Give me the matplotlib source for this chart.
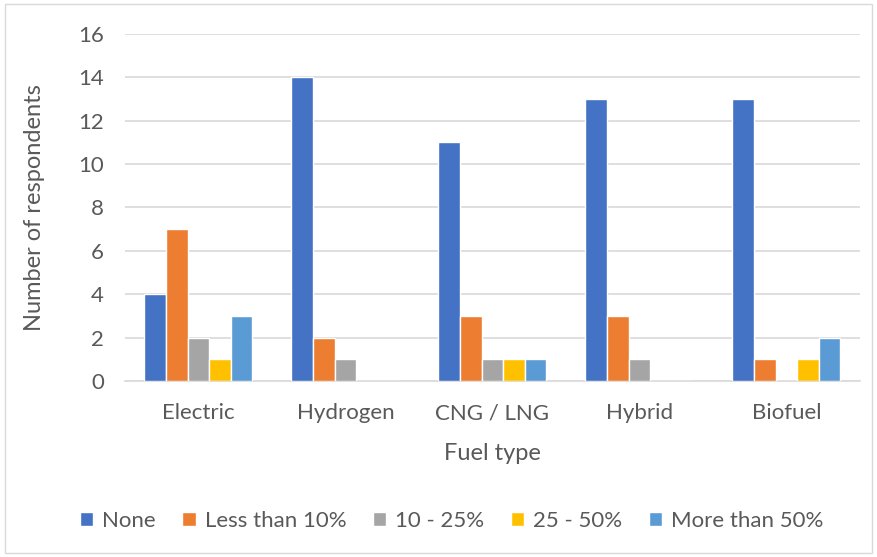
import matplotlib.pyplot as plt
import numpy as np
from matplotlib.patches import Rectangle

plt.rcParams['font.family'] = ['Lato', 'DejaVu Sans']

fuels = ["Electric", "Hydrogen", "CNG / LNG", "Hybrid", "Biofuel"]
series = ["None", "Less than 10%", "10 - 25%", "25 - 50%", "More than 50%"]
none = [4, 14, 11, 13, 13]
less10 = [7, 2, 3, 3, 1]
p10_25 = [2, 1, 1, 1, 0]
p25_50 = [1, 0, 1, 0, 1]
more50 = [3, 0, 1, 0, 2]
colors = ["#4472C4", "#ED7D31", "#A5A5A5", "#FFC000", "#5B9BD5"]
txt = "#595959"

fig = plt.figure(figsize=(8.77, 5.57), dpi=100)
ax = fig.add_axes([0.1425, 0.316, 0.838, 0.623])

x = np.arange(len(fuels))
w = 0.147
vals = [none, less10, p10_25, p25_50, more50]
for i, (name, v) in enumerate(zip(series, vals)):
    ax.bar(x + (i - 2) * w, v, width=w, color=colors[i], label=name,
           edgecolor="white", linewidth=1.0, zorder=3)

ax.set_xlim(-0.5, len(fuels) - 0.5)
ax.set_ylim(0, 16)
ax.set_yticks(range(0, 17, 2))
ax.set_xticks(x)
ax.set_xticklabels(fuels)
ax.grid(axis="y", color="#D9D9D9", linewidth=1.2, zorder=0)
for s in ["top", "right", "left"]:
    ax.spines[s].set_visible(False)
ax.spines["bottom"].set_color("#D9D9D9")
ax.spines["bottom"].set_linewidth(1.2)
ax.tick_params(axis="both", length=0, labelsize=16, colors=txt)
ax.tick_params(axis="y", pad=15)
ax.tick_params(axis="x", pad=16)
ax.set_xlabel("Fuel type", fontsize=17, color=txt, labelpad=14)
ax.set_ylabel("Number of respondents", fontsize=17, color=txt, labelpad=24)

fig.legend(loc="center", bbox_to_anchor=(0.515, 0.0646), ncol=5, frameon=False,
           fontsize=16, handlelength=0.6, handleheight=0.6, handletextpad=0.4,
           columnspacing=1.2, labelcolor=txt)

fig.patches.append(Rectangle((0.006, 0.008), 0.988, 0.984, transform=fig.transFigure,
                             fill=False, edgecolor="#D9D9D9", linewidth=1.0))

fig.savefig("out.png", dpi=100)
